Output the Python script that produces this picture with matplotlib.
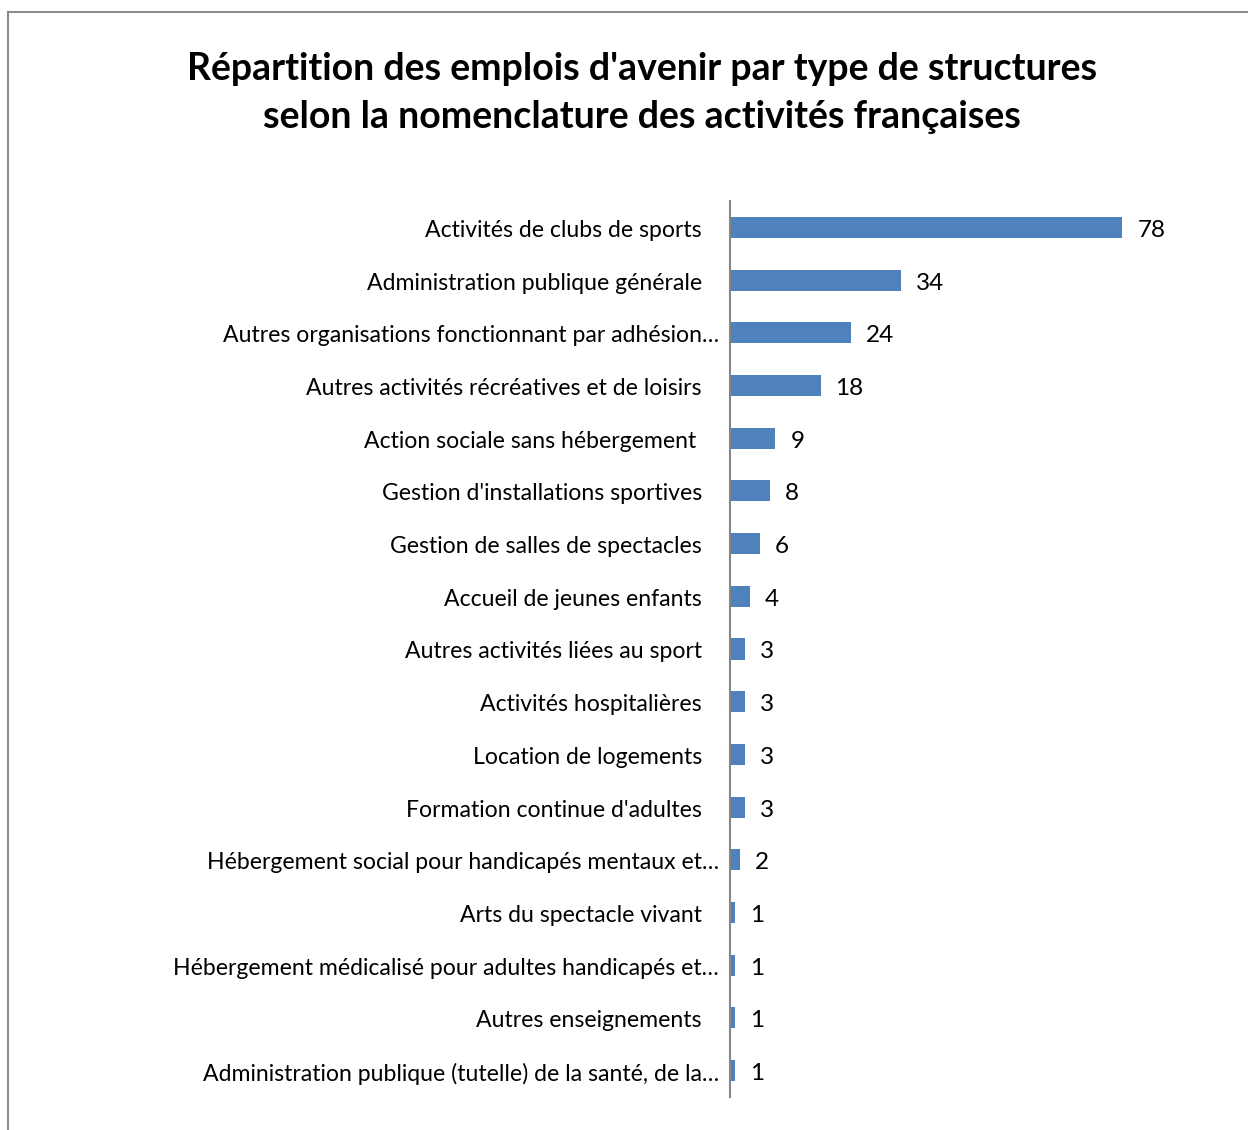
import matplotlib.pyplot as plt
from matplotlib.patches import Rectangle

categories = [
    "Activités de clubs de sports",
    "Administration publique générale",
    "Autres organisations fonctionnant par adhésion…",
    "Autres activités récréatives et de loisirs",
    "Action sociale sans hébergement",
    "Gestion d'installations sportives",
    "Gestion de salles de spectacles",
    "Accueil de jeunes enfants",
    "Autres activités liées au sport",
    "Activités hospitalières",
    "Location de logements",
    "Formation continue d'adultes",
    "Hébergement social pour handicapés mentaux et…",
    "Arts du spectacle vivant",
    "Hébergement médicalisé pour adultes handicapés et…",
    "Autres enseignements",
    "Administration publique (tutelle) de la santé, de la…",
]
values = [78, 34, 24, 18, 9, 8, 6, 4, 3, 3, 3, 3, 2, 1, 1, 1, 1]

title = ("Répartition des emplois d'avenir par type de structures\n"
         "selon la nomenclature des activités françaises")

plt.rcParams['font.family'] = ['Lato', 'DejaVu Sans']

W, H = 1248, 1130
fig = plt.figure(figsize=(W / 100, H / 100), dpi=100)
ax = fig.add_axes([730 / W, 1 - 1097 / H, 1 - 730 / W, (1097 - 201) / H])

ypos = list(range(len(categories)))
ax.barh(ypos, values, height=0.4, color='#4F81BD')
ax.set_ylim(len(categories) - 0.5, -0.5)
ax.set_xlim(0, (W - 730) / 5.03)

# category labels, right aligned left of the axis; cut-off ones run a bit further
for i, lab in enumerate(categories):
    if lab.endswith("…"):
        off = -11
    elif lab.startswith("Action sociale"):
        off = -34
    else:
        off = -28
    ax.annotate(lab, xy=(0, i), xycoords=('axes fraction', 'data'),
                xytext=(off, -3), textcoords='offset pixels',
                ha='right', va='center', fontsize=16.6, color='black')

# value labels
for i, v in enumerate(values):
    ax.annotate(str(v), xy=(v, i), xytext=(15, -3), textcoords='offset pixels',
                ha='left', va='center', fontsize=17.5, color='black')

ax.set_yticks([])
ax.set_xticks([])
for s in ['top', 'right', 'bottom']:
    ax.spines[s].set_visible(False)
ax.spines['left'].set_color('#868686')
ax.spines['left'].set_linewidth(1.5)

fig.text(642 / W, 1 - 93 / H, title, ha='center', va='center',
         fontsize=27, fontweight='bold', linespacing=1.5)

# chart area border
fig.add_artist(Rectangle((8 / W, -0.1), 1.2, 1 - 12 / H + 0.1,
                         transform=fig.transFigure, fill=False,
                         edgecolor='#8c8c8c', linewidth=1.5))

fig.savefig('out.png', dpi=100)
